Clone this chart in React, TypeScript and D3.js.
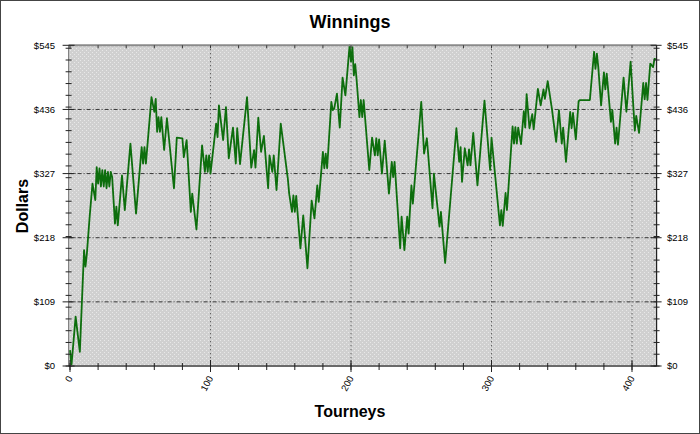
import React from "react";
import * as d3 from "d3";

const tourneys = [
  0, 1, 4, 7, 10, 11, 12, 14, 16, 18, 19, 20, 21, 22, 23, 24, 25, 26, 27, 28, 29, 30, 32, 33, 34, 37, 39, 43, 47, 51, 52, 53, 54, 55, 58, 60, 61, 62, 63, 64, 65, 67, 69, 74, 76, 80, 81,
  83, 86, 87, 90, 94, 96, 97, 98, 99, 100, 104, 105, 106, 109, 111, 113, 116, 118, 119, 121, 126, 129, 131, 132, 134, 136, 138, 141, 142, 144, 145, 147, 150, 155, 156, 158, 159, 160, 161, 164,
  166, 169, 172, 174, 176, 177, 180, 181, 182, 183, 186, 187, 188, 190, 192, 194, 196, 199, 200, 201, 202, 203, 204, 206, 207, 208, 209, 213, 215, 217, 218, 219, 220, 222, 224, 227, 229, 230, 231, 235, 236, 238, 240, 241, 243, 244, 250,
  252, 254, 258, 259, 263, 264, 267, 275, 277, 278, 279, 281, 283, 284, 285, 287, 290, 295, 299, 300, 306, 307, 308, 310, 311, 315, 316, 317, 318, 319, 321, 323, 324, 325, 327, 329, 330, 333, 334,
  335, 337, 338, 340, 343, 346, 348, 350, 351, 353, 356, 357, 358, 360, 362, 363, 370, 373, 374, 375, 376, 378, 380, 381, 382, 385, 386, 388, 389, 390, 394, 396, 399, 402, 403, 405, 408, 409, 410, 411, 413, 415, 416, 417,
];

const winnings = [
  27, 0, 84, 24, 197, 169, 191, 254, 310, 282, 338, 310, 336, 305, 333, 305, 333, 302, 330, 305, 330, 321, 242, 271, 239, 324, 265, 378, 259, 372, 344, 372, 344, 372, 457, 432, 454, 398, 423, 398, 423, 367, 421, 302, 388, 387, 355,
  384, 262, 293, 232, 375, 330, 358, 330, 358, 327, 412, 389, 443, 384, 440, 353, 405, 344, 404, 343, 457, 337, 367, 337, 422, 364, 391, 302, 358, 330, 358, 299, 412, 319, 293, 262, 290, 262, 289, 200,
  256, 166, 281, 251, 307, 279, 364, 336, 361, 336, 449, 435, 437, 463, 405, 490, 460, 545, 517, 542, 494, 513, 486, 423, 452, 423, 452, 333, 388, 358, 387, 358, 385, 327, 383, 293, 347, 321, 347, 200, 254, 197, 254, 225, 307, 276, 449,
  361, 387, 268, 327, 237, 262, 175, 404, 347, 372, 313, 370, 341, 368, 341, 396, 307, 451, 333, 388, 239, 265, 238, 294, 265, 407, 378, 406, 378, 405, 377, 433, 405, 462, 404, 428, 402, 471, 457,
  443, 470, 454, 484, 437, 381, 435, 378, 405, 347, 432, 404, 430, 385, 450, 452, 452, 534, 505, 531, 508, 443, 499, 470, 497, 415, 435, 378, 405, 376, 490, 432, 517, 400, 425, 396, 481, 453, 481, 452, 514, 508, 522, 521,
];

const yMajorTicks = [0, 109, 218, 327, 436, 545];
const yTickLabels = ["$0", "$109", "$218", "$327", "$436", "$545"];
const xMajorTicks = [0, 100, 200, 300, 400];
const xTickLabels = ["0", "100", "200", "300", "400"];

const W = 700;
const H = 434;
const FONT = "'Liberation Sans', Arial, Helvetica, sans-serif";

export default function App() {
  const x = d3.scaleLinear().domain([-1, 417.5]).range([68.6, 656.6]);
  const y = d3.scaleLinear().domain([0, 545]).range([366, 45.3]);
  const left = x.range()[0];
  const right = x.range()[1];
  const top = y.range()[1];
  const bottom = y.range()[0];

  const data = tourneys.map((t, i) => [t, winnings[i]] as [number, number]);
  const line = d3
    .line<[number, number]>()
    .x((d) => x(d[0]))
    .y((d) => y(d[1]));

  const xMinor = d3.range(0, 418, 20);
  const yMinor = d3.range(0, 546, 20);

  return (
    <svg
      width={W}
      height={H}
      style={{ position: "absolute", left: 0, top: 0, background: "#fff" }}
      fontFamily={FONT}
    >
      <defs>
        <pattern id="dots" width={4} height={4} patternUnits="userSpaceOnUse">
          <rect width={4} height={4} fill="#d0d0d0" />
          <rect x={0} y={0} width={1} height={1} fill="#e8e8e8" />
          <rect x={2} y={2} width={1} height={1} fill="#e8e8e8" />
        </pattern>
      </defs>
      <rect x={0.5} y={0.5} width={W - 1} height={H - 1} fill="#fff" stroke="#444" />

      <text x={350} y={28} textAnchor="middle" fontSize={18} fontWeight="bold" fill="#000">
        Winnings
      </text>

      <rect x={left} y={top} width={right - left} height={bottom - top} fill="url(#dots)" />

      {/* horizontal grid */}
      {yMajorTicks.slice(1, -1).map((v) => (
        <line
          key={"hg" + v}
          x1={left}
          x2={right}
          y1={y(v)}
          y2={y(v)}
          stroke="#333"
          strokeWidth={1}
          strokeDasharray="4,2,1,2"
        />
      ))}
      {/* vertical grid */}
      {xMajorTicks.slice(1).map((v) => (
        <line
          key={"vg" + v}
          x1={x(v)}
          x2={x(v)}
          y1={top}
          y2={bottom}
          stroke="#333"
          strokeWidth={1}
          strokeDasharray="1,3"
        />
      ))}

      <path d={line(data) || ""} fill="none" stroke="#0d6e0d" strokeWidth={1.8} strokeLinejoin="round" />

      {/* frame */}
      <line x1={left} x2={right} y1={top} y2={top} stroke="#8a8a8a" strokeWidth={2} />
      <line x1={left} x2={right} y1={bottom} y2={bottom} stroke="#6a6a6a" strokeWidth={2} />
      <line x1={left} x2={left} y1={top} y2={bottom} stroke="#777" strokeWidth={1} />
      <line x1={right} x2={right} y1={top} y2={bottom} stroke="#222" strokeWidth={1.2} />

      {/* y ticks */}
      {yMinor.map((v) => (
        <g key={"ym" + v}>
          <line x1={left - 3} x2={left + 3} y1={y(v)} y2={y(v)} stroke="#222" />
          <line x1={right - 3} x2={right + 3} y1={y(v)} y2={y(v)} stroke="#222" />
        </g>
      ))}
      {yMajorTicks.map((v, i) => (
        <g key={"yM" + v}>
          <line x1={left - 6} x2={left + 6} y1={y(v)} y2={y(v)} stroke="#222" />
          <line x1={right - 6} x2={right + 5} y1={y(v)} y2={y(v)} stroke="#222" />
          <text x={55} y={y(v)} dy="0.35em" textAnchor="end" fontSize={9.5} fill="#000">
            {yTickLabels[i]}
          </text>
          <text x={667} y={y(v)} dy="0.35em" textAnchor="start" fontSize={9.5} fill="#000">
            {yTickLabels[i]}
          </text>
        </g>
      ))}

      {/* x ticks */}
      {xMinor.map((v) => (
        <g key={"xm" + v}>
          <line x1={x(v)} x2={x(v)} y1={bottom - 3} y2={bottom + 4} stroke="#222" />
          <line x1={x(v)} x2={x(v)} y1={top} y2={top + 3} stroke="#333" />
        </g>
      ))}
      {xMajorTicks.map((v, i) => (
        <g key={"xM" + v}>
          <line x1={x(v)} x2={x(v)} y1={bottom - 6} y2={bottom + 6} stroke="#222" />
          <text
            transform={`translate(${x(v) + 3},${bottom + 12}) rotate(-62)`}
            textAnchor="end"
            fontSize={9.5}
            fill="#000"
          >
            {xTickLabels[i]}
          </text>
        </g>
      ))}

      <text x={350} y={417} textAnchor="middle" fontSize={16} fontWeight="bold" fill="#000">
        Tourneys
      </text>
      <text
        transform="translate(28,206) rotate(-90)"
        textAnchor="middle"
        fontSize={16}
        fontWeight="bold"
        fill="#000"
      >
        Dollars
      </text>
    </svg>
  );
}
